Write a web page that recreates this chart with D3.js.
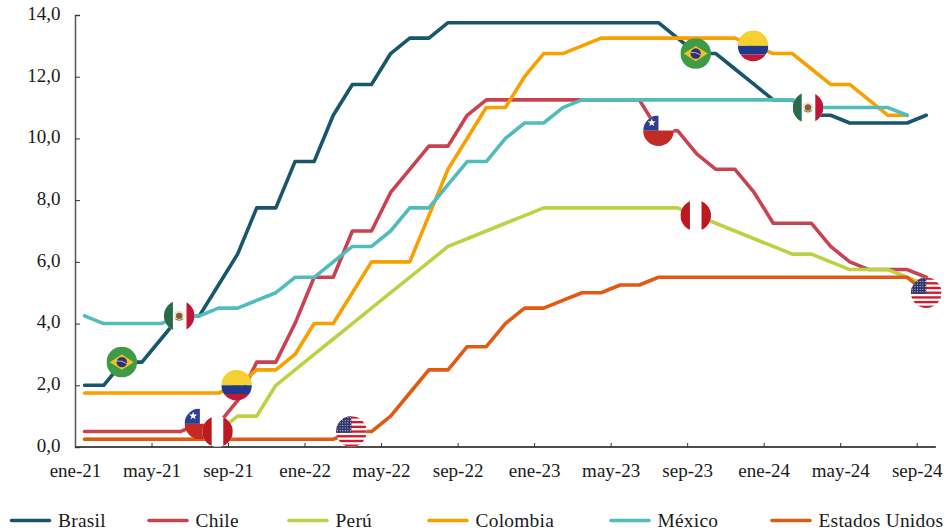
<!DOCTYPE html>
<html lang="es">
<head>
<meta charset="utf-8">
<title>Tasas de política monetaria</title>
<script src="https://cdn.jsdelivr.net/npm/d3@7/dist/d3.min.js"></script>
<style>
  html, body { margin: 0; padding: 0; background: #fff; }
  svg { display: block; }
  text { font-family: "Liberation Serif", serif; font-size: 19px; fill: #1a1a1a; }
  .legend text { font-size: 19.4px; letter-spacing: 0.25px; }
</style>
</head>
<body>
<svg id="chart" width="952" height="530"></svg>
<script>
// Months, January 2021 to September 2024
const years = ["21", "22", "23", "24"];
const monthNames = ["ene", "feb", "mar", "abr", "may", "jun", "jul", "ago", "sep", "oct", "nov", "dic"];
const months = years.flatMap(y => monthNames.map(m => `${m}-${y}`)).slice(0, 45);

const monthTicks = ["ene-21", "may-21", "sep-21", "ene-22", "may-22", "sep-22", "ene-23", "may-23", "sep-23", "ene-24", "may-24", "sep-24"];
const rateTicks = [0, 2, 4, 6, 8, 10, 12, 14];

// Policy rates, one value per month
const brasil = [2, 2, 2.75, 2.75, 3.5, 4.25, 4.25, 5.25, 6.25, 7.75, 7.75, 9.25, 9.25, 10.75, 11.75, 11.75, 12.75, 13.25, 13.25, 13.75, 13.75, 13.75, 13.75, 13.75, 13.75, 13.75, 13.75, 13.75, 13.75, 13.75, 13.75, 13.25, 12.75, 12.75, 12.25, 11.75, 11.25, 11.25, 10.75, 10.75, 10.5, 10.5, 10.5, 10.5, 10.75];
const chile = [0.5, 0.5, 0.5, 0.5, 0.5, 0.5, 0.75, 0.75, 1.5, 2.75, 2.75, 4, 5.5, 5.5, 7, 7, 8.25, 9, 9.75, 9.75, 10.75, 11.25, 11.25, 11.25, 11.25, 11.25, 11.25, 11.25, 11.25, 11.25, 10.25, 10.25, 9.5, 9, 9, 8.25, 7.25, 7.25, 7.25, 6.5, 6, 5.75, 5.75, 5.75, 5.5];
const peru = [0.25, 0.25, 0.25, 0.25, 0.25, 0.25, 0.25, 0.5, 1, 1, 2, 2.5, 3, 3.5, 4, 4.5, 5, 5.5, 6, 6.5, 6.75, 7, 7.25, 7.5, 7.75, 7.75, 7.75, 7.75, 7.75, 7.75, 7.75, 7.75, 7.5, 7.25, 7, 6.75, 6.5, 6.25, 6.25, 6, 5.75, 5.75, 5.75, 5.5, 5.25];
const colombia = [1.75, 1.75, 1.75, 1.75, 1.75, 1.75, 1.75, 1.75, 2, 2.5, 2.5, 3, 4, 4, 5, 6, 6, 6, 7.5, 9, 10, 11, 11, 12, 12.75, 12.75, 13, 13.25, 13.25, 13.25, 13.25, 13.25, 13.25, 13.25, 13.25, 13, 12.75, 12.75, 12.25, 11.75, 11.75, 11.25, 10.75, 10.75];
const mexico = [4.25, 4, 4, 4, 4, 4.25, 4.25, 4.5, 4.5, 4.75, 5, 5.5, 5.5, 6, 6.5, 6.5, 7, 7.75, 7.75, 8.5, 9.25, 9.25, 10, 10.5, 10.5, 11, 11.25, 11.25, 11.25, 11.25, 11.25, 11.25, 11.25, 11.25, 11.25, 11.25, 11.25, 11.25, 11, 11, 11, 11, 11, 10.75];
const estadosUnidos = [0.25, 0.25, 0.25, 0.25, 0.25, 0.25, 0.25, 0.25, 0.25, 0.25, 0.25, 0.25, 0.25, 0.25, 0.5, 0.5, 1, 1.75, 2.5, 2.5, 3.25, 3.25, 4, 4.5, 4.5, 4.75, 5, 5, 5.25, 5.25, 5.5, 5.5, 5.5, 5.5, 5.5, 5.5, 5.5, 5.5, 5.5, 5.5, 5.5, 5.5, 5.5, 5.5, 5];

const seriesNames = ["Brasil", "Chile", "Perú", "Colombia", "México", "Estados Unidos"];
const seriesValues = [brasil, chile, peru, colombia, mexico, estadosUnidos];
const seriesColors = ["#17566b", "#c8434f", "#bcd245", "#f9a000", "#50bcbb", "#e05a12"];
const legendLineX = [11.5, 149, 289, 429, 611, 772];

// Each flag sits on one month of one series, nudged sideways by a pixel or so
const flagSeries = [0, 4, 1, 2, 3, 5, 1, 0, 3, 4, 2, 5];
const flagMonths = ["mar-21", "jun-21", "jul-21", "ago-21", "sep-21", "mar-22", "jul-23", "sep-23", "dic-23", "mar-24", "sep-23", "sep-24"];
const flagNudge = [-1, -1, 0.5, -1, -1, -1, 0, -1, -1, -3.5, -1, 0];

const svg = d3.select("#chart");
const left = 75, bandStep = 19.13;
const x = d3.scalePoint().domain(months).range([left + bandStep / 2, left + bandStep * 44.5]);
const xTick = d3.scalePoint().domain(months).range([left, left + bandStep * 44]);
const y = d3.scaleLinear().domain([0, 14]).range([447, 15]);

// Axes: ticks point into the plot
const xAxis = svg.append("g").attr("transform", "translate(0,447)")
  .call(d3.axisBottom(xTick).tickValues(monthTicks).tickSize(-4).tickPadding(17));
const yAxis = svg.append("g").attr("transform", `translate(${left},0)`)
  .call(d3.axisLeft(y).tickValues(rateTicks).tickSize(-5).tickPadding(14.5)
    .tickFormat(d => d3.format(".1f")(d).replace(".", ",")));
xAxis.select(".domain").attr("d", `M${left},0H${left + bandStep * 45}`).attr("stroke", "#111").attr("stroke-width", 1.3);
xAxis.selectAll(".tick line").attr("stroke", "#333");
yAxis.select(".domain").attr("stroke", "#555").attr("stroke-width", 1.5);
yAxis.selectAll(".tick line").attr("stroke", "#333");
yAxis.selectAll("text").attr("dy", "0.23em");

// Series lines
const line = d3.line().x((d, i) => x(months[i])).y(d => y(d));
svg.append("g").selectAll("path").data(seriesValues).join("path")
  .attr("d", line).attr("fill", "none")
  .attr("stroke", (d, i) => seriesColors[i])
  .attr("stroke-width", 3.6)
  .attr("stroke-linejoin", "round").attr("stroke-linecap", "round");

// Flags, each clipped to a circle of this radius
const R = 15.3;
svg.append("defs").append("clipPath").attr("id", "disc").append("circle").attr("r", R);

function rect(g, x0, y0, w, h, fill) {
  g.append("rect").attr("x", x0).attr("y", y0).attr("width", w).attr("height", h).attr("fill", fill);
}
function star(g, cx, cy, r, fill) {
  const pts = d3.range(10).map(i => {
    const a = -Math.PI / 2 + i * Math.PI / 5, q = i % 2 ? r * 0.42 : r;
    return [cx + q * Math.cos(a), cy + q * Math.sin(a)];
  });
  g.append("polygon").attr("points", pts.join(" ")).attr("fill", fill);
}
const flagPainters = {
  "Brasil": g => {
    rect(g, -R, -R, 2 * R, 2 * R, "#3f9b46");
    g.append("polygon").attr("points", "-12,0 0,-7.6 12,0 0,7.6").attr("fill", "#f1c320");
    g.append("circle").attr("r", 5.2).attr("fill", "#2e3078");
    g.append("path").attr("d", "M-5,-1.2Q0,-1.8 5,1.4").attr("fill", "none").attr("stroke", "#eee").attr("stroke-width", 0.7);
  },
  "Chile": g => {
    rect(g, -R, -R, 2 * R, R, "#ffffff");
    rect(g, -R, -R, R, R, "#2d3f94");
    rect(g, -R, 0, 2 * R, R, "#c22a24");
    star(g, -6.7, -8, 4.2, "#fff");
  },
  "Perú": g => {
    rect(g, -R, -R, 2 * R, 2 * R, "#ffffff");
    rect(g, -R, -R, 9.5, 2 * R, "#bc1a20");
    rect(g, R - 9.5, -R, 9.5, 2 * R, "#bc1a20");
  },
  "Colombia": g => {
    rect(g, -R, -R, 2 * R, R, "#f6d030");
    rect(g, -R, 0, 2 * R, 8.7, "#21398c");
    rect(g, -R, 8.7, 2 * R, R, "#c0183a");
  },
  "México": g => {
    rect(g, -R, -R, 2 * R, 2 * R, "#ffffff");
    rect(g, -R, -R, 9, 2 * R, "#2a6b4a");
    rect(g, R - 8, -R, 8, 2 * R, "#c0163a");
    g.append("circle").attr("r", 5.4).attr("fill", "#e9e2cf");
    g.append("circle").attr("r", 3.2).attr("fill", "#8a5a33");
    g.append("path").attr("d", "M-4,3Q0,6 4,3").attr("fill", "none").attr("stroke", "#6a8f5a").attr("stroke-width", 1);
  },
  "Estados Unidos": g => {
    const h = 2 * R / 13;
    rect(g, -R, -R, 2 * R, 2 * R, "#ffffff");
    d3.range(0, 13, 2).forEach(i => rect(g, -R, -R + i * h, 2 * R, h, "#cf1b2b"));
    rect(g, -R, -R, R, 7 * h, "#2e3468");
    d3.range(6).forEach(r => d3.range(6).forEach(c => {
      g.append("circle").attr("cx", -R + 1.4 + c * 2.6).attr("cy", -R + 1.4 + r * 2.6).attr("r", 0.55).attr("fill", "#dfe2ee");
    }));
  }
};
flagSeries.forEach((s, k) => {
  const m = flagMonths[k];
  const cx = x(m) + flagNudge[k], cy = y(seriesValues[s][months.indexOf(m)]);
  const g = svg.append("g").attr("transform", `translate(${cx},${cy})`).append("g").attr("clip-path", "url(#disc)");
  flagPainters[seriesNames[s]](g);
});

// Legend along the bottom edge
const legend = svg.append("g").attr("class", "legend").selectAll("g").data(seriesNames).join("g")
  .attr("transform", (d, i) => `translate(${legendLineX[i]},520.5)`);
legend.append("line").attr("x1", 0).attr("x2", 38)
  .attr("stroke", (d, i) => seriesColors[i]).attr("stroke-width", 3.6).attr("stroke-linecap", "round");
legend.append("text").attr("x", 46.5).attr("y", 6).text(d => d);
</script>
</body>
</html>
